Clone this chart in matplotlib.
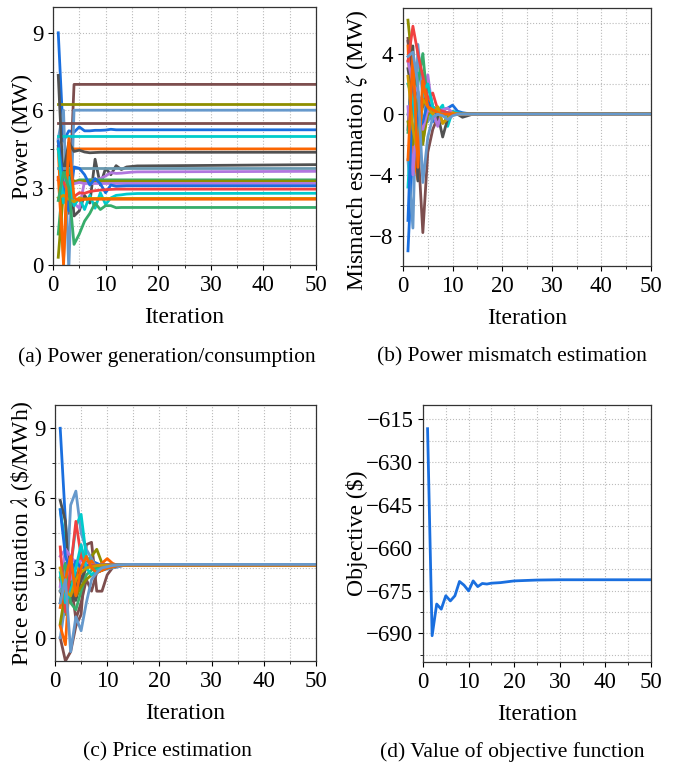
import matplotlib
matplotlib.use("Agg")
import matplotlib.pyplot as plt
from matplotlib.ticker import MultipleLocator

plt.rcParams['font.family'] = ['Liberation Serif', 'DejaVu Serif']
plt.rcParams['mathtext.fontset'] = 'stix'
plt.rcParams['axes.unicode_minus'] = True

# iterations at which values were read (flat after 16 up to 50)
iters = [1, 2, 3, 4, 5, 6, 7, 8, 9, 10, 11, 12, 13, 14, 15, 16, 50]

# (a) power generation / consumption (MW), one list per agent
power = [
    [9.0, 4.8, 5.2, 5.15, 5.35, 5.2, 5.2, 5.22, 5.22, 5.23, 5.26, 5.24, 5.24, 5.24, 5.24, 5.24, 5.24],
    [4.6, 3.1, 2.0, 7.0, 7.0, 7.0, 7.0, 7.0, 7.0, 7.0, 7.0, 7.0, 7.0, 7.0, 7.0, 7.0, 7.0],
    [6.25, 6.25, 6.25, 6.25, 6.25, 6.25, 6.25, 6.25, 6.25, 6.25, 6.25, 6.25, 6.25, 6.25, 6.25, 6.25, 6.25],
    [4.9, 6.0, -0.2, 6.0, 6.0, 6.0, 6.0, 6.0, 6.0, 6.0, 6.0, 6.0, 6.0, 6.0, 6.0, 6.0, 6.0],
    [5.5, 5.5, 5.5, 5.5, 5.5, 5.5, 5.5, 5.5, 5.5, 5.5, 5.5, 5.5, 5.5, 5.5, 5.5, 5.5, 5.5],
    [5.0, 5.0, 5.0, 5.0, 5.0, 5.0, 5.0, 5.0, 5.0, 5.0, 5.0, 5.0, 5.0, 5.0, 5.0, 5.0, 5.0],
    [4.5, 0.0, 4.5, 4.5, 4.5, 4.5, 4.5, 4.5, 4.5, 4.5, 4.5, 4.5, 4.5, 4.5, 4.5, 4.5, 4.5],
    [4.75, 3.6, 4.75, 4.4, 4.45, 4.38, 4.35, 4.36, 4.37, 4.37, 4.37, 4.37, 4.37, 4.37, 4.37, 4.37, 4.37],
    [7.35, 3.0, 4.3, 1.9, 2.1, 2.7, 2.4, 4.1, 3.1, 3.75, 3.5, 3.85, 3.7, 3.8, 3.82, 3.84, 3.89],
    [3.75, 3.75, 3.75, 3.75, 3.75, 3.75, 3.75, 3.75, 3.75, 3.75, 3.75, 3.75, 3.75, 3.75, 3.75, 3.75, 3.75],
    [3.3, 3.3, 3.05, 2.4, 2.2, 3.25, 3.3, 3.3, 3.35, 3.45, 3.58, 3.55, 3.56, 3.58, 3.6, 3.61, 3.63],
    [1.2, 3.5, 3.7, 3.2, 3.3, 3.3, 3.3, 3.3, 3.3, 3.3, 3.3, 3.3, 3.3, 3.3, 3.3, 3.3, 3.3],
    [0.3, 2.9, 3.2, 3.25, 3.25, 3.25, 3.25, 3.25, 3.25, 3.25, 3.25, 3.25, 3.25, 3.25, 3.25, 3.25, 3.25],
    [3.4, 3.35, 3.2, 3.15, 3.2, 3.16, 3.16, 3.16, 3.16, 3.16, 3.16, 3.16, 3.16, 3.16, 3.16, 3.16, 3.16],
    [4.8, 3.1, 2.1, 3.8, 3.75, 3.5, 3.1, 3.35, 3.15, 2.8, 3.1, 3.05, 3.06, 3.07, 3.07, 3.07, 3.07],
    [3.3, 3.2, 2.75, 2.65, 2.8, 2.78, 2.85, 2.88, 2.9, 2.92, 2.93, 2.94, 2.94, 2.94, 2.94, 2.94, 2.94],
    [4.5, 2.4, 3.4, 2.3, 2.6, 2.15, 2.7, 2.2, 2.8, 2.35, 2.6, 2.7, 2.72, 2.75, 2.76, 2.77, 2.78],
    [2.6, 2.7, 2.55, 2.45, 2.6, 2.55, 2.58, 2.58, 2.58, 2.58, 2.58, 2.58, 2.58, 2.58, 2.58, 2.58, 2.58],
    [3.4, 0.2, 4.9, 2.6, 2.5, 2.55, 2.55, 2.55, 2.55, 2.55, 2.55, 2.55, 2.55, 2.55, 2.55, 2.55, 2.55],
    [2.5, 3.6, 3.0, 0.8, 1.2, 1.7, 2.0, 2.4, 2.15, 2.3, 2.3, 2.22, 2.23, 2.23, 2.23, 2.23, 2.23],
]

# (b) power mismatch estimation zeta (MW)
mismatch = [
    [-9.0, -2.0, 1.5, -1.0, 0.3, -0.5, 0.2, 0.3, 0.4, 0.6, 0.2, 0.1, 0.05, 0.02, 0.01, 0.0, 0.0],
    [5.0, 1.0, -2.0, -7.8, -2.5, -1.0, -0.2, 0.2, 0.1, 0.05, 0.02, 0.0, 0.0, 0.0, 0.0, 0.0, 0.0],
    [6.2, 3.0, 0.5, -2.0, 1.0, 0.4, 0.3, -0.6, -0.2, 0.1, 0.05, 0.02, 0.0, 0.0, 0.0, 0.0, 0.0],
    [-3.0, -7.5, 4.6, 1.0, -0.5, 0.2, 0.1, 0.0, 0.1, 0.05, 0.0, 0.0, 0.0, 0.0, 0.0, 0.0, 0.0],
    [4.8, 2.0, 1.0, 0.5, 2.0, 0.5, 0.2, 0.1, 0.0, 0.0, 0.0, 0.0, 0.0, 0.0, 0.0, 0.0, 0.0],
    [-4.8, 1.0, 2.7, 2.7, 0.5, -0.3, 0.2, 0.6, -0.8, 0.2, 0.1, 0.05, 0.0, 0.0, 0.0, 0.0, 0.0],
    [4.5, -2.5, -4.3, 2.2, 1.0, 0.3, 0.4, 0.1, 0.05, 0.0, 0.0, 0.0, 0.0, 0.0, 0.0, 0.0, 0.0],
    [-1.0, 4.5, -4.4, 1.5, 0.8, 0.2, 0.0, -1.5, -0.3, 0.1, 0.0, -0.2, -0.1, 0.0, 0.0, 0.0, 0.0],
    [3.0, 1.0, -1.0, 1.5, 0.5, 0.3, 0.1, 0.0, 0.0, 0.0, 0.0, 0.0, 0.0, 0.0, 0.0, 0.0, 0.0],
    [0.0, 2.0, 0.5, -0.3, 0.2, 0.1, 0.0, 0.0, 0.0, 0.0, 0.0, 0.0, 0.0, 0.0, 0.0, 0.0, 0.0],
    [0.5, -4.0, 1.0, 1.0, 2.6, 0.2, -0.8, 0.3, 0.4, 0.1, 0.0, 0.0, 0.0, 0.0, 0.0, 0.0, 0.0],
    [-1.2, 1.0, 2.0, 4.0, 0.5, 0.2, 0.1, 0.0, 0.0, 0.0, 0.0, 0.0, 0.0, 0.0, 0.0, 0.0, 0.0],
    [-0.5, -2.0, 1.0, -1.8, 0.0, 0.3, 0.1, 0.0, 0.0, 0.0, 0.0, 0.0, 0.0, 0.0, 0.0, 0.0, 0.0],
    [3.5, 2.0, 1.5, -1.0, 0.3, 0.1, 0.0, 0.0, 0.0, 0.0, 0.0, 0.0, 0.0, 0.0, 0.0, 0.0, 0.0],
    [-7.0, 2.0, -1.0, -0.5, 0.8, 0.2, 0.0, 0.0, 0.0, 0.0, 0.0, 0.0, 0.0, 0.0, 0.0, 0.0, 0.0],
    [3.5, 5.8, 4.0, 2.5, 1.0, 1.4, 0.3, 0.2, 0.1, 0.05, 0.0, 0.0, 0.0, 0.0, 0.0, 0.0, 0.0],
    [2.0, 1.0, -2.0, 1.5, 2.0, 0.5, 0.1, 0.0, 0.0, 0.0, 0.0, 0.0, 0.0, 0.0, 0.0, 0.0, 0.0],
    [2.5, -1.0, -2.5, 1.0, 0.5, 0.0, 0.5, -0.6, -0.3, 0.1, 0.0, 0.0, 0.0, 0.0, 0.0, 0.0, 0.0],
    [-3.0, 4.0, -3.5, 2.2, 0.5, 0.3, 0.1, 0.0, 0.0, 0.0, 0.0, 0.0, 0.0, 0.0, 0.0, 0.0, 0.0],
    [3.8, 4.1, 2.0, -4.5, -1.5, -0.2, 0.0, -0.1, -0.35, -0.1, 0.0, 0.0, 0.0, 0.0, 0.0, 0.0, 0.0],
]

# (c) price estimation lambda ($/MWh)
price = [
    [9.0, 5.0, 2.0, 2.8, 2.5, 3.2, 3.3, 3.2, 3.1, 3.15, 3.12, 3.12, 3.12, 3.12, 3.12, 3.12, 3.12],
    [0.0, -1.0, -0.6, 0.5, 1.0, 4.0, 4.1, 2.0, 2.0, 2.7, 3.0, 3.05, 3.1, 3.12, 3.12, 3.12, 3.12],
    [2.5, 1.0, 2.0, 2.5, 3.0, 3.2, 3.5, 3.8, 3.2, 3.1, 3.12, 3.12, 3.12, 3.12, 3.12, 3.12, 3.12],
    [0.0, 1.5, 5.7, 6.3, 4.5, 3.8, 3.4, 3.0, 2.9, 2.95, 3.0, 3.05, 3.1, 3.12, 3.12, 3.12, 3.12],
    [2.0, 1.5, 2.5, 0.8, 1.5, 2.5, 2.0, 2.8, 2.9, 3.0, 3.05, 3.1, 3.12, 3.12, 3.12, 3.12, 3.12],
    [5.5, 4.0, 3.0, 4.8, 5.3, 3.5, 3.2, 3.0, 3.1, 3.1, 3.12, 3.12, 3.12, 3.12, 3.12, 3.12, 3.12],
    [0.5, -0.3, 3.4, 2.0, 3.9, 3.0, 3.3, 3.0, 3.2, 3.4, 3.2, 3.1, 3.12, 3.12, 3.12, 3.12, 3.12],
    [5.9, 5.0, 1.5, 2.0, 3.0, 3.2, 3.1, 3.1, 3.12, 3.12, 3.12, 3.12, 3.12, 3.12, 3.12, 3.12, 3.12],
    [1.5, 3.0, 2.0, 1.6, 2.5, 3.0, 3.1, 3.1, 3.12, 3.12, 3.12, 3.12, 3.12, 3.12, 3.12, 3.12, 3.12],
    [2.0, 3.0, 2.5, 3.2, 3.0, 3.1, 3.1, 3.12, 3.12, 3.12, 3.12, 3.12, 3.12, 3.12, 3.12, 3.12, 3.12],
    [2.2, 3.8, 3.5, 3.2, 3.3, 3.2, 3.1, 3.1, 3.12, 3.12, 3.12, 3.12, 3.12, 3.12, 3.12, 3.12, 3.12],
    [2.6, 3.2, 1.5, 1.2, 2.0, 2.7, 2.9, 3.0, 3.05, 3.1, 3.12, 3.12, 3.12, 3.12, 3.12, 3.12, 3.12],
    [0.6, 2.0, 2.5, 1.8, 2.2, 2.5, 2.7, 2.8, 2.9, 3.0, 3.05, 3.1, 3.12, 3.12, 3.12, 3.12, 3.12],
    [3.5, 3.8, 2.5, 3.3, 3.1, 3.1, 3.12, 3.12, 3.12, 3.12, 3.12, 3.12, 3.12, 3.12, 3.12, 3.12, 3.12],
    [5.5, 3.5, 2.8, 3.3, 3.0, 3.1, 3.1, 3.12, 3.12, 3.12, 3.12, 3.12, 3.12, 3.12, 3.12, 3.12, 3.12],
    [3.9, 1.1, 3.0, 5.0, 3.5, 3.0, 3.1, 3.1, 3.12, 3.12, 3.12, 3.12, 3.12, 3.12, 3.12, 3.12, 3.12],
    [2.8, 1.5, 2.0, 3.0, 4.0, 3.0, 2.7, 2.9, 3.0, 3.05, 3.1, 3.12, 3.12, 3.12, 3.12, 3.12, 3.12],
    [3.0, 2.0, 1.8, 2.5, 2.8, 3.0, 3.05, 3.1, 3.12, 3.12, 3.12, 3.12, 3.12, 3.12, 3.12, 3.12, 3.12],
    [1.3, 2.5, 3.5, 1.8, 3.0, 3.5, 3.0, 2.8, 2.9, 3.0, 3.05, 3.1, 3.12, 3.12, 3.12, 3.12, 3.12],
    [1.5, 2.5, -0.6, 0.9, 0.3, 1.5, 2.5, 2.8, 3.0, 3.05, 3.1, 3.12, 3.14, 3.15, 3.15, 3.15, 3.15],
]

# (d) objective value ($)
obj_iters = [1, 2, 3, 4, 5, 6, 7, 8, 9, 10, 11, 12, 13, 14, 15, 17, 20, 25, 30, 50]
objective = [-618.3, -690.8, -679.7, -681.5, -676.8, -678.6, -676.8, -671.8, -673.1,
             -675.1, -671.6, -673.6, -672.5, -672.7, -672.4, -672.2, -671.6, -671.3,
             -671.2, -671.2]

# line colours per agent
colors = ['#1a6fdf', '#7d4e4e', '#8e8e00', '#6699cc', '#7d4e4e', '#00cbcc', '#fb6501',
          '#515151', '#515151', '#6a99b0', '#b177de', '#37ad6b', '#8e8e00', '#b177de',
          '#1a6fdf', '#f14040', '#00cbcc', '#cc9900', '#fb6501', '#37ad6b']
colors_bc = ['#1a6fdf', '#7d4e4e', '#8e8e00', '#6699cc', '#7d4e4e', '#00cbcc', '#fb6501',
             '#515151', '#515151', '#6a99b0', '#b177de', '#37ad6b', '#8e8e00', '#b177de',
             '#1a6fdf', '#f14040', '#00cbcc', '#cc9900', '#fb6501', '#6699cc']

FS = 17
TFS = 16.5
fig = plt.figure(figsize=(6.74, 7.64), dpi=100)

def style(ax, ylim, major, ylabel):
    ax.set_xlim(0, 50)
    ax.set_ylim(*ylim)
    ax.xaxis.set_major_locator(MultipleLocator(10))
    ax.xaxis.set_minor_locator(MultipleLocator(5))
    ax.yaxis.set_major_locator(MultipleLocator(major))
    ax.yaxis.set_minor_locator(MultipleLocator(major / 2))
    ax.grid(True, which='both', linestyle=':', color='#bbbbbb', linewidth=0.8)
    ax.set_axisbelow(True)
    ax.tick_params(labelsize=TFS, which='major', length=3.5, width=0.8)
    ax.tick_params(which='minor', length=2, width=0.6)
    ax.set_xlabel('Iteration', fontsize=FS, labelpad=8)
    ax.set_ylabel(ylabel, fontsize=FS, labelpad=-1)
    for s in ax.spines.values():
        s.set_color('#333333')
        s.set_linewidth(0.9)

ax_a = fig.add_axes([53/674, 1-265/764, 263/674, 258/764])
for ys, c in zip(power, colors):
    ax_a.plot(iters, ys, color=c, lw=2)
style(ax_a, (0, 10), 3, 'Power (MW)')

ax_b = fig.add_axes([403/674, 1-266/764, 248/674, 258/764])
for ys, c in zip(mismatch, colors_bc):
    ax_b.plot(iters, ys, color=c, lw=2)
style(ax_b, (-10, 7), 4, r'Mismatch estimation $\zeta$ (MW)')
ax_b.yaxis.label.set_y(0.45)

ax_c = fig.add_axes([55/674, 1-661/764, 261/674, 256/764])
for ys, c in zip(price, colors_bc):
    ax_c.plot(iters, ys, color=c, lw=2)
style(ax_c, (-1, 10), 3, r'Price estimation $\lambda$ (\$/MWh)')

ax_d = fig.add_axes([423/674, 1-662/764, 228/674, 257/764])
ax_d.plot(obj_iters, objective, color='#1a6fdf', lw=2)
style(ax_d, (-700, -610), 15, r'Objective (\$)')

CFS = 15.5
fig.text(167/674, 1-357/764, '(a) Power generation/consumption', ha='center', va='center', fontsize=CFS)
fig.text(512/674, 1-357/764, '(b) Power mismatch estimation', ha='center', va='center', fontsize=CFS)
fig.text(167/674, 1-752/764, '(c) Price estimation', ha='center', va='center', fontsize=CFS)
fig.text(512/674, 1-752/764, '(d) Value of objective function', ha='center', va='center', fontsize=CFS)

fig.savefig('out.png', dpi=100)
